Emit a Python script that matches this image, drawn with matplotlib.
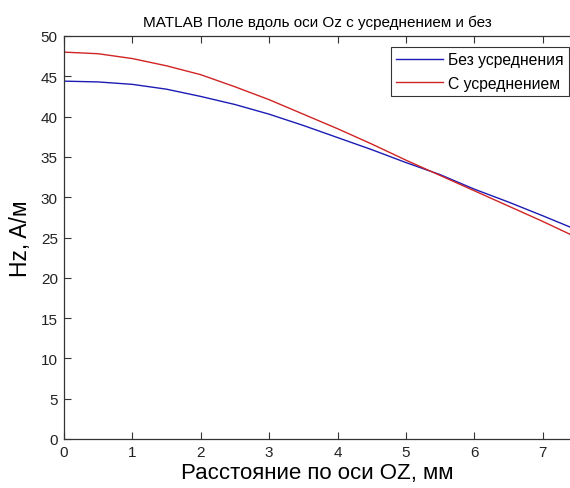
import matplotlib
matplotlib.use("Agg")
import matplotlib.pyplot as plt

plt.rcParams['font.family'] = ['Liberation Sans', 'DejaVu Sans']

z = [0.0, 0.5, 1.0, 1.5, 2.0, 2.5, 3.0, 3.5, 4.0, 4.5, 5.0, 5.5, 6.0, 6.5, 7.0, 7.4]
hz_plain = [44.4, 44.3, 44.0, 43.4, 42.5, 41.5, 40.3, 38.9, 37.4, 35.9, 34.3, 32.8, 31.0, 29.4, 27.7, 26.3]
hz_avg = [48.0, 47.8, 47.2, 46.3, 45.2, 43.7, 42.1, 40.3, 38.5, 36.6, 34.6, 32.7, 30.8, 28.9, 27.0, 25.4]

labels = ['Без усреднения', 'С усреднением']
title = 'MATLAB Поле вдоль оси Oz с усреднением и без'
xlabel = 'Расстояние по оси OZ, мм'
ylabel = 'Hz, A/м'

W, H = 570, 489
L, R, T, B = 64, 570, 37, 440
fig = plt.figure(figsize=(W / 100, H / 100), dpi=100)
ax = fig.add_axes([L / W, (H - B) / H, (R - L) / W, (B - T) / H])
ax.plot(z, hz_plain, color='#1c1cb4', lw=1.0, label=labels[0])
ax.plot(z, hz_avg, color='#d02424', lw=1.0, label=labels[1])
ax.set_xlim(0, 7.4)
ax.set_ylim(0, 50)
ax.set_xticks(range(0, 8))
ax.set_yticks(range(0, 51, 5))
ax.tick_params(direction='in', top=True, right=False, labelsize=11, length=5,
               width=0.8, color='#333333', labelcolor='#222222', pad=4.5)
ax.spines['right'].set_visible(False)
for s in ['left', 'bottom', 'top']:
    ax.spines[s].set_color('#333333')
    ax.spines[s].set_linewidth(0.9)
ax.set_title(title, fontsize=11, pad=7.5)
ax.set_xlabel(xlabel, fontsize=16, labelpad=2)
ax.set_ylabel(ylabel, fontsize=16.5, labelpad=6)
leg = ax.legend(loc='upper right',
                bbox_to_anchor=((569 - L) / (R - L), 1 - (48 - T) / (B - T)),
                borderaxespad=0, fontsize=11.3, frameon=True, fancybox=False,
                edgecolor='black', handlelength=3.0, handletextpad=0.35,
                borderpad=0.32, labelspacing=0.55)
leg.get_frame().set_linewidth(0.8)
fig.savefig('out.png', dpi=100)
